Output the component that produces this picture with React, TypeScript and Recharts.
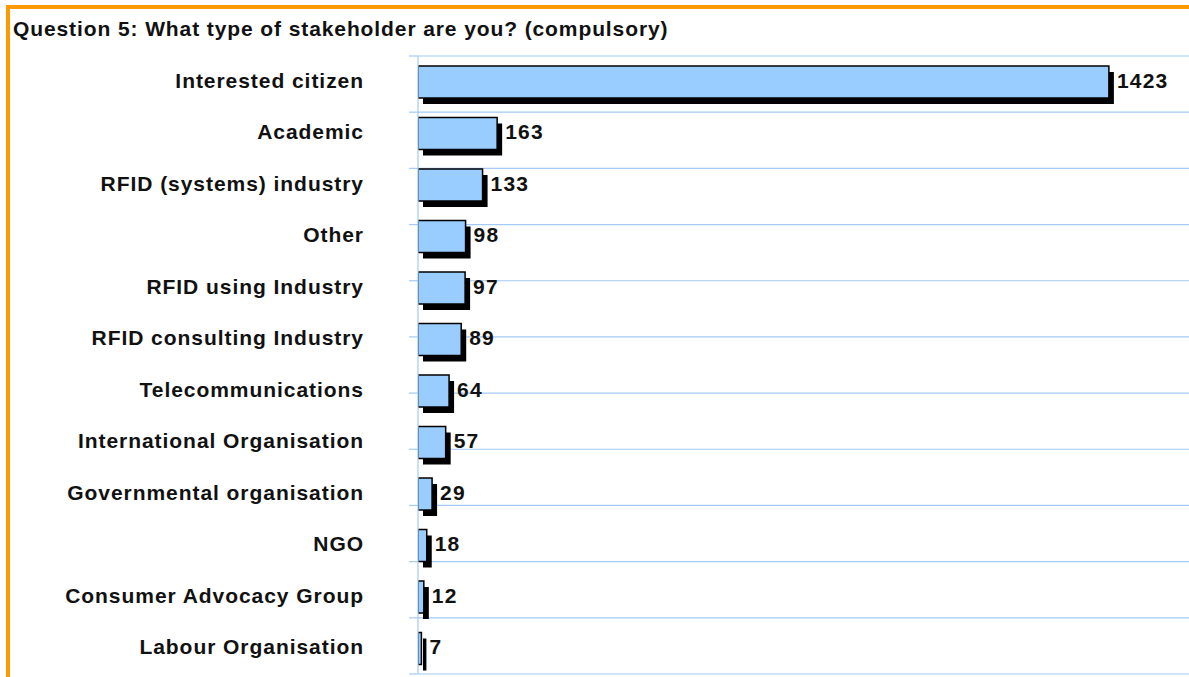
import React from 'react';
import { BarChart, Bar, XAxis, YAxis, CartesianGrid, LabelList } from 'recharts';

const categories = [
  'Interested citizen',
  'Academic',
  'RFID (systems) industry',
  'Other',
  'RFID using Industry',
  'RFID consulting Industry',
  'Telecommunications',
  'International Organisation',
  'Governmental organisation',
  'NGO',
  'Consumer Advocacy Group',
  'Labour Organisation',
];
const counts = [1423, 163, 133, 98, 97, 89, 64, 57, 29, 18, 12, 7];
const gridTicks = [0, 1, 2, 3, 4, 5, 6, 7, 8, 9, 10, 11, 12];
const title = 'Question 5: What type of stakeholder are you? (compulsory)';

const data = categories.map((name, i) => ({ name, value: counts[i] }));

const FONT = '"Liberation Sans", Arial, sans-serif';
const GRID = '#A4CAF5';

const ShadowBar = (props: any) => {
  const { x, y, width, height } = props;
  if (width == null || height == null) return null;
  return (
    <g>
      <rect x={x + 5} y={y + 6} width={width} height={height} fill="#000" />
      <rect x={x} y={y} width={width} height={height} fill="#99CCFF" stroke="#000" strokeWidth={1.5} />
    </g>
  );
};

const CatTick = (props: any) => {
  const { x, y, payload } = props;
  return (
    <text
      x={x}
      y={y}
      dy="0.28em"
      textAnchor="end"
      fontFamily={FONT}
      fontWeight="bold"
      fontSize={21}
      letterSpacing={0.95}
      fill="#111"
    >
      {payload.value}
    </text>
  );
};

const ValueLabel = (props: any) => {
  const { x, y, width, height, value } = props;
  return (
    <text
      x={x + width + 8}
      y={y + height / 2}
      dy="0.28em"
      textAnchor="start"
      fontFamily={FONT}
      fontWeight="bold"
      fontSize={21}
      letterSpacing={1.2}
      fill="#111"
    >
      {value}
    </text>
  );
};

export default function App() {
  return (
    <div style={{ position: 'absolute', left: 0, top: 0, width: 1189, height: 677, overflow: 'hidden', background: '#fff' }}>
      <div
        style={{
          position: 'absolute',
          left: 6,
          top: 5,
          width: 1200,
          height: 700,
          borderLeft: '4px solid #FF9900',
          borderTop: '4px solid #FF9900',
        }}
      />
      <div
        style={{
          position: 'absolute',
          left: 13,
          top: 17,
          fontFamily: FONT,
          fontWeight: 'bold',
          fontSize: 21,
          letterSpacing: 0.9,
          color: '#111',
          whiteSpace: 'nowrap',
          lineHeight: '24px',
        }}
      >
        {title}
      </div>
      <div style={{ position: 'absolute', left: 0, top: 0 }}>
        <BarChart
          width={1189}
          height={677}
          data={data}
          layout="vertical"
          margin={{ top: 56, right: 0, bottom: 3, left: 0 }}
          barSize={32}
        >
          <CartesianGrid horizontal vertical={false} yAxisId="a" stroke={GRID} strokeWidth={1.2} />
          <XAxis type="number" domain={[0, 1588]} hide allowDataOverflow />
          <YAxis
            yAxisId="a"
            type="number"
            domain={[0, 12]}
            ticks={gridTicks}
            width={9}
            tickSize={9}
            tickFormatter={() => ''}
            tickLine={{ stroke: GRID, strokeWidth: 1.2 }}
            axisLine={{ stroke: GRID, strokeWidth: 1.2 }}
            interval={0}
          />
          <YAxis
            yAxisId="b"
            type="category"
            dataKey="name"
            width={409}
            tickLine={false}
            axisLine={false}
            tickSize={0}
            tickMargin={45}
            interval={0}
            tick={<CatTick />}
          />
          <Bar dataKey="value" yAxisId="b" shape={<ShadowBar />} isAnimationActive={false}>
            <LabelList dataKey="value" content={<ValueLabel />} />
          </Bar>
        </BarChart>
      </div>
    </div>
  );
}
